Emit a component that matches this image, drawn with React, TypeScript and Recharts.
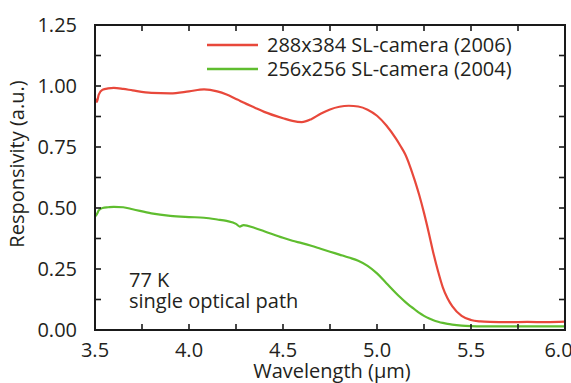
import React from 'react';
import { LineChart, Line, XAxis, YAxis, Customized } from 'recharts';

const wavelength = [3.5, 3.51, 3.52, 3.54, 3.57, 3.6, 3.65, 3.7, 3.8, 3.9, 4.0, 4.08, 4.15, 4.2, 4.25, 4.27, 4.29, 4.35, 4.4, 4.5, 4.55, 4.6, 4.65, 4.7, 4.75, 4.8, 4.85, 4.9, 4.95, 5.0, 5.05, 5.1, 5.125, 5.15, 5.175, 5.2, 5.225, 5.25, 5.275, 5.3, 5.325, 5.35, 5.375, 5.4, 5.45, 5.5, 5.55, 5.6, 5.7, 5.8, 5.9, 6.0];
const sl288 = [0.95, 0.935, 0.965, 0.985, 0.99, 0.992, 0.988, 0.982, 0.972, 0.97, 0.978, 0.986, 0.978, 0.965, 0.947, 0.94, 0.932, 0.911, 0.894, 0.868, 0.857, 0.852, 0.864, 0.886, 0.904, 0.915, 0.919, 0.916, 0.903, 0.878, 0.838, 0.785, 0.754, 0.72, 0.672, 0.615, 0.552, 0.48, 0.4, 0.315, 0.24, 0.175, 0.13, 0.098, 0.058, 0.041, 0.035, 0.033, 0.032, 0.033, 0.032, 0.034];
const sl256 = [0.465, 0.475, 0.49, 0.5, 0.503, 0.505, 0.503, 0.495, 0.478, 0.468, 0.463, 0.46, 0.453, 0.447, 0.435, 0.424, 0.43, 0.418, 0.405, 0.378, 0.366, 0.356, 0.345, 0.333, 0.321, 0.309, 0.297, 0.284, 0.263, 0.232, 0.192, 0.152, 0.133, 0.115, 0.099, 0.085, 0.07, 0.058, 0.048, 0.04, 0.034, 0.029, 0.025, 0.022, 0.018, 0.016, 0.015, 0.015, 0.015, 0.015, 0.015, 0.015];
const seriesNames = ['288x384 SL-camera (2006)', '256x256 SL-camera (2004)'];
const xTicks = [3.5, 3.75, 4.0, 4.25, 4.5, 4.75, 5.0, 5.25, 5.5, 5.75, 6.0];
const yTicks = [0, 0.125, 0.25, 0.375, 0.5, 0.625, 0.75, 0.875, 1.0, 1.125, 1.25];
const xDomain = [3.5, 6];
const yDomain = [0, 1.25];
const annotation = ['77 K', 'single optical path'];
const xTitle = 'Wavelength (µm)';
const yTitle = 'Responsivity (a.u.)';

const data = wavelength.map((w, i) => ({ w, a: sl288[i], b: sl256[i] }));

const FONT = '"Open Sans", sans-serif';
const TXT = '#231f20';
const FRAME = '#1a1a1a';
const COLORS = ['#e8483b', '#5fbd2f'];

// plot box (matches chart margins + axis sizes below)
const PLOT = { left: 95, right: 565, top: 25, bottom: 330 };
const TICK = 6;
const px = (v: number) => PLOT.left + ((v - xDomain[0]) / (xDomain[1] - xDomain[0])) * (PLOT.right - PLOT.left);
const py = (v: number) => PLOT.bottom - ((v - yDomain[0]) / (yDomain[1] - yDomain[0])) * (PLOT.bottom - PLOT.top);

const FrameOverlay = () => (
  <svg
    width={571}
    height={383}
    style={{ position: 'absolute', left: 0, top: 0, pointerEvents: 'none', overflow: 'visible' }}
  >
    {xTicks.map((t) => (
      <g key={`x${t}`}>
        <line x1={px(t)} y1={PLOT.bottom} x2={px(t)} y2={PLOT.bottom - TICK} stroke={FRAME} strokeWidth={1.6} />
        <line x1={px(t)} y1={PLOT.top} x2={px(t)} y2={PLOT.top + TICK} stroke={FRAME} strokeWidth={1.6} />
      </g>
    ))}
    {yTicks.map((t) => (
      <g key={`y${t}`}>
        <line x1={PLOT.left} y1={py(t)} x2={PLOT.left + TICK} y2={py(t)} stroke={FRAME} strokeWidth={1.6} />
        <line x1={PLOT.right} y1={py(t)} x2={PLOT.right - TICK} y2={py(t)} stroke={FRAME} strokeWidth={1.6} />
      </g>
    ))}
    <rect x={PLOT.left} y={PLOT.top} width={PLOT.right - PLOT.left} height={PLOT.bottom - PLOT.top} fill="none" stroke={FRAME} strokeWidth={2} />
  </svg>
);

const Decorations = () => (
  <g fontFamily={FONT} fontSize={20} fill={TXT}>
    {seriesNames.map((name, i) => (
      <g key={name}>
        <line x1={207} y1={45 + i * 24} x2={258} y2={45 + i * 24} stroke={COLORS[i]} strokeWidth={2.5} />
        <text x={267} y={52 + i * 24}>{name}</text>
      </g>
    ))}
    <text x={129} y={287}>{annotation[0]}</text>
    <text x={129} y={308}>{annotation[1]}</text>
    <text x={332} y={378} textAnchor="middle">{xTitle}</text>
    <text transform="translate(24,164) rotate(-90)" textAnchor="middle">{yTitle}</text>
  </g>
);

export default function App() {
  return (
    <div style={{ position: 'absolute', left: 0, top: 0, width: 571, height: 383 }}>
      <LineChart width={571} height={383} data={data} margin={{ top: 25, right: 6, bottom: 0, left: 0 }}>
        <XAxis
          dataKey="w"
          type="number"
          domain={xDomain}
          ticks={xTicks}
          height={53}
          stroke={FRAME}
          strokeWidth={2}
          tickLine={false}
          tickMargin={7}
          tick={{ fill: TXT, fontSize: 20, fontFamily: FONT }}
          tickFormatter={(v: number) => (Math.abs(v * 2 - Math.round(v * 2)) < 1e-6 ? v.toFixed(1) : '')}
        />
        <YAxis
          type="number"
          domain={yDomain}
          ticks={yTicks}
          width={95}
          stroke={FRAME}
          strokeWidth={2}
          tickLine={false}
          tickMargin={12}
          tick={{ fill: TXT, fontSize: 20, fontFamily: FONT }}
          tickFormatter={(v: number) => (Math.abs(v * 4 - Math.round(v * 4)) < 1e-6 ? v.toFixed(2) : '')}
        />
        <Line type="monotone" dataKey="a" name={seriesNames[0]} stroke={COLORS[0]} strokeWidth={2.2} dot={false} isAnimationActive={false} />
        <Line type="monotone" dataKey="b" name={seriesNames[1]} stroke={COLORS[1]} strokeWidth={2.2} dot={false} isAnimationActive={false} />
        <Customized component={Decorations} />
      </LineChart>
      <FrameOverlay />
    </div>
  );
}
